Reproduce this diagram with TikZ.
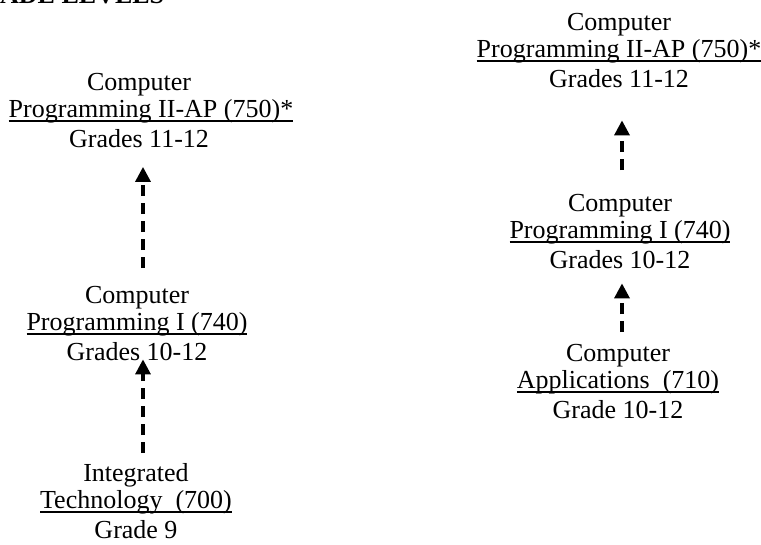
\documentclass[tikz,border=0pt]{standalone}
\usepackage{fontspec}
\setmainfont{Liberation Serif}
\usetikzlibrary{arrows.meta}
\newcommand\ulin[1]{\setbox0\hbox{#1}\rlap{\rule[-4.6pt]{\wd0}{1.4pt}}\box0}
\newcommand\toprule{\rule{0pt}{20pt}}
\newcommand\botrule{\rule[-7pt]{0pt}{7pt}}
\tikzset{
  course/.style={align=center, inner sep=0pt, anchor=north, font=\fontsize{26}{27}\selectfont},
  prereq/.style={line width=3.3pt, dash pattern=on 11.5pt off 6.5pt,
     -{Triangle[width=15pt,length=15pt]}},
  heading/.style={anchor=base west, inner sep=0pt, font=\fontsize{26}{28}\selectfont\bfseries}
}
\begin{document}
\begin{tikzpicture}[x=1pt,y=-1pt]
\useasboundingbox (0,0) rectangle (761,544);
\begin{scope}
\clip (0,0) rectangle (761,544);
\node[heading] (head) at (0,3) {ADE LEVELS};
\end{scope}
% left column
\node[course] (l1) at (139,70) {\toprule Computer\\\makebox[0pt]{\hspace{24pt}\ulin{Programming II-AP (750)*}}\\[3.5pt]Grades 11-12\botrule};
\node[course] (l2) at (137,283) {\toprule Computer\\\ulin{Programming I (740)}\\[3.5pt]Grades 10-12\botrule};
\node[course] (l3) at (136,461) {\toprule Integrated\\\ulin{Technology\ \ (700)}\\[3.5pt]Grade 9\botrule};
% right column
\node[course] (r1) at (619,10) {\toprule Computer\\\ulin{Programming II-AP (750)*}\\[3.5pt]Grades 11-12\botrule};
\node[course] (r2) at (620,191) {\toprule Computer\\\ulin{Programming I (740)}\\[3.5pt]Grades 10-12\botrule};
\node[course] (r3) at (618,341) {\toprule Computer\\\ulin{Applications\ \ (710)}\\[3.5pt]Grade 10-12\botrule};
% connectors
\draw[prereq] ([xshift=6pt,yshift=15pt]l2.north) -- ([xshift=4pt,yshift=-12pt]l1.south);
\draw[prereq] ([xshift=7pt,yshift=8pt]l3.north) -- ([xshift=6pt,yshift=8.5pt]l2.south);
\draw[prereq] ([xshift=2pt,yshift=21pt]r2.north) -- ([xshift=3pt,yshift=-25.5pt]r1.south);
\draw[prereq] ([xshift=4pt,yshift=9pt]r3.north) -- ([xshift=2pt,yshift=-7.5pt]r2.south);
\end{tikzpicture}
\end{document}
